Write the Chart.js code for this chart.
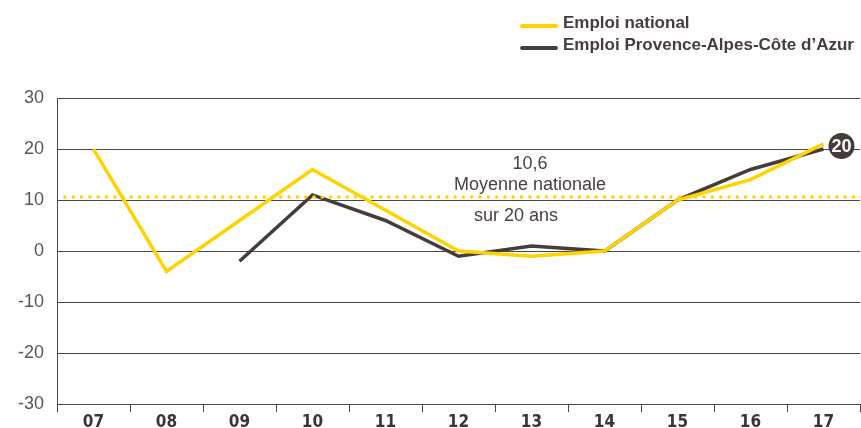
<!DOCTYPE html>
<html>
<head>
<meta charset="utf-8">
<script src="https://cdn.jsdelivr.net/npm/chart.js@4"></script>
<style>
  html, body { margin: 0; padding: 0; background: #fff; }
  #wrap { position: relative; width: 861px; height: 428px; }
  .legend { position: absolute; left: 520px; font-family: 'Liberation Sans', Arial, sans-serif;
            font-size: 17px; font-weight: bold; color: #463c3c; line-height: 20px; }
  .legend span.swatch { display: inline-block; width: 38px; height: 4px; border-radius: 2px;
            vertical-align: middle; margin-right: 5px; position: relative; top: 2px; }
</style>
</head>
<body>
<div id="wrap">
  <canvas id="lineChart" width="861" height="428"></canvas>
  <div class="legend" style="top:13px"><span class="swatch" style="background:#ffd200"></span>Emploi national</div>
  <div class="legend" style="top:35px"><span class="swatch" style="background:#463c3c"></span>Emploi Provence-Alpes-Côte d’Azur</div>
</div>
<script>
// Data
const years = ['07', '08', '09', '10', '11', '12', '13', '14', '15', '16', '17'];
const emploiNational = [20, -4, 6, 16, 8, 0, -1, 0, 10, 14, 21];
const emploiPaca = [null, null, -2, 11, 6, -1, 1, 0, 10, 16, 20];
const yTicks = [-30, -20, -10, 0, 10, 20, 30];
const moyenneNationale = 10.6;
const dernierPaca = '20';

const YELLOW = '#ffd200';
const DARK = '#463c3c';
const GRID = '#4d4545';

// dotted average line, its labels and the end badge
const extras = {
  id: 'extras',
  afterDatasetsDraw(chart) {
    const { ctx, chartArea, scales } = chart;
    const y = scales.y.getPixelForValue(moyenneNationale);
    ctx.save();
    ctx.fillStyle = YELLOW;
    for (let x = 65; x < chartArea.right + 2; x += 8.3) {
      ctx.beginPath();
      ctx.arc(x, y, 1.8, 0, Math.PI * 2);
      ctx.fill();
    }
    ctx.fillStyle = '#4a4040';
    ctx.font = '18px "Liberation Sans", Arial, sans-serif';
    ctx.textAlign = 'center';
    ctx.textBaseline = 'middle';
    ctx.fillText(moyenneNationale.toString().replace('.', ','), 530, y - 33);
    ctx.fillText('Moyenne nationale', 530, y - 12);
    ctx.fillText('sur 20 ans', 516, y + 19);

    // badge on last PACA point
    const meta = chart.getDatasetMeta(1);
    const last = meta.data[meta.data.length - 1];
    const bx = last.x + 18, by = last.y - 3;
    ctx.fillStyle = DARK;
    ctx.beginPath();
    ctx.arc(bx, by, 13, 0, Math.PI * 2);
    ctx.fill();
    ctx.fillStyle = '#fff';
    ctx.font = 'bold 18px "Liberation Sans", Arial, sans-serif';
    ctx.fillText(dernierPaca, bx, by + 1);
    ctx.restore();
  }
};

new Chart(document.getElementById('lineChart').getContext('2d'), {
  type: 'line',
  data: {
    labels: years,
    datasets: [{
      label: 'Emploi national',
      data: emploiNational,
      borderColor: YELLOW,
      borderWidth: 3.5,
      pointRadius: 0,
      tension: 0,
      fill: false
    }, {
      label: 'Emploi Provence-Alpes-Côte d’Azur',
      data: emploiPaca,
      borderColor: DARK,
      borderWidth: 3.5,
      pointRadius: 0,
      tension: 0,
      fill: false
    }]
  },
  options: {
    responsive: false,
    animation: false,
    layout: { padding: { top: 98, right: 1, left: 0, bottom: 0 } },
    plugins: { legend: { display: false }, tooltip: { enabled: false } },
    scales: {
      x: {
        offset: true,
        afterFit: (s) => { s.height = 23; },
        grid: { offset: true, drawOnChartArea: false, tickLength: 8, color: GRID },
        border: { color: GRID },
        ticks: {
          color: '#3d3535',
          font: { family: '"DejaVu Sans Condensed", "Liberation Sans", Arial', size: 17, weight: 'bold' },
          padding: 0,
          maxRotation: 0
        }
      },
      y: {
        min: -30,
        max: 30,
        afterFit: (s) => { s.width = 57; },
        afterBuildTicks: (s) => { s.ticks = yTicks.map(v => ({ value: v })); },
        grid: { color: GRID, drawTicks: false },
        border: { color: GRID },
        ticks: {
          color: '#5e5454',
          font: { family: '"Liberation Sans", Arial', size: 18 },
          padding: 13
        }
      }
    }
  },
  plugins: [extras]
});
</script>
</body>
</html>
